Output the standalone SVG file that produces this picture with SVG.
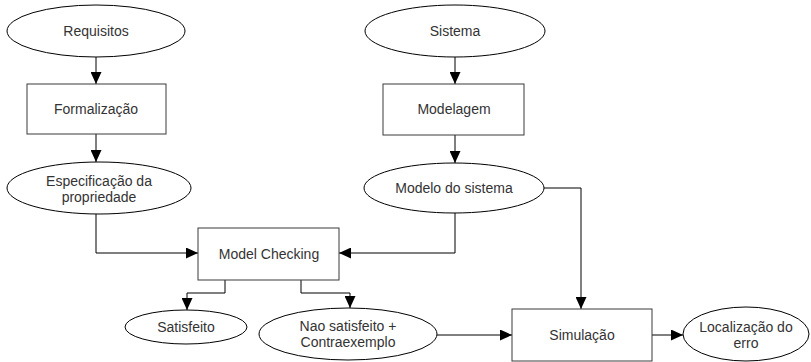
<svg xmlns="http://www.w3.org/2000/svg" width="811" height="362" viewBox="0 0 811 362">
  <defs>
    <style>
      .shape { fill: #ffffff; stroke: #000000; stroke-width: 1; }
      .box { fill: #ffffff; stroke: #3a3a3a; stroke-width: 1; }
      .label { font-family: "Liberation Sans", Arial, sans-serif; font-size: 14px; fill: #333333; text-anchor: middle; }
      .wire { fill: none; stroke: #000000; stroke-width: 1; }
    </style>
    <marker id="arrow" viewBox="0 0 12 11" refX="12" refY="5.5" markerWidth="12" markerHeight="11" markerUnits="userSpaceOnUse" orient="auto">
      <path d="M0,0 L12,5.5 L0,11 Z" fill="#000000"/>
    </marker>
  </defs>

  <!-- connectors -->
  <g id="connectors">
    <path class="wire" d="M96,57 V84" marker-end="url(#arrow)"/>
    <path class="wire" d="M96,134 V162" marker-end="url(#arrow)"/>
    <path class="wire" d="M455,57 V84" marker-end="url(#arrow)"/>
    <path class="wire" d="M455,135 V163" marker-end="url(#arrow)"/>
    <path class="wire" d="M96,214 V253 H198" marker-end="url(#arrow)"/>
    <path class="wire" d="M455,213 V253 H339" marker-end="url(#arrow)"/>
    <path class="wire" d="M544,188 H581 V309" marker-end="url(#arrow)"/>
    <path class="wire" d="M225,280 V293 H187 V310" marker-end="url(#arrow)"/>
    <path class="wire" d="M301,280 V293 H350 V308" marker-end="url(#arrow)"/>
    <path class="wire" d="M437,335 H512" marker-end="url(#arrow)"/>
    <path class="wire" d="M652,335 H683" marker-end="url(#arrow)"/>
  </g>

  <g id="requisitos">
    <ellipse class="shape" cx="96" cy="31" rx="89" ry="26"/>
    <text class="label" x="96" y="36">Requisitos</text>
  </g>

  <g id="formalizacao">
    <rect class="box" x="27" y="84" width="139" height="50"/>
    <text class="label" x="96" y="114">Formalização</text>
  </g>

  <g id="especificacao">
    <ellipse class="shape" cx="99" cy="188" rx="92" ry="26"/>
    <text class="label" x="99" y="186">Especificação da</text>
    <text class="label" x="99" y="202">propriedade</text>
  </g>

  <g id="sistema">
    <ellipse class="shape" cx="455" cy="31" rx="90" ry="26"/>
    <text class="label" x="455" y="36">Sistema</text>
  </g>

  <g id="modelagem">
    <rect class="box" x="383" y="84" width="141" height="51"/>
    <text class="label" x="454" y="114">Modelagem</text>
  </g>

  <g id="modelo-sistema">
    <ellipse class="shape" cx="454" cy="188" rx="90" ry="25"/>
    <text class="label" x="454" y="193">Modelo do sistema</text>
  </g>

  <g id="model-checking">
    <rect class="box" x="198" y="228" width="141" height="52"/>
    <text class="label" x="269" y="259">Model Checking</text>
  </g>

  <g id="satisfeito">
    <ellipse class="shape" cx="186" cy="327" rx="61" ry="17"/>
    <text class="label" x="186" y="332">Satisfeito</text>
  </g>

  <g id="nao-satisfeito">
    <ellipse class="shape" cx="348" cy="334" rx="89" ry="26"/>
    <text class="label" x="348" y="331">Nao satisfeito +</text>
    <text class="label" x="348" y="347">Contraexemplo</text>
  </g>

  <g id="simulacao">
    <rect class="box" x="512" y="309" width="140" height="52"/>
    <text class="label" x="582" y="340">Simulação</text>
  </g>

  <g id="localizacao">
    <ellipse class="shape" cx="746" cy="334" rx="63" ry="27"/>
    <text class="label" x="746" y="332">Localização do</text>
    <text class="label" x="746" y="348">erro</text>
  </g>
</svg>
